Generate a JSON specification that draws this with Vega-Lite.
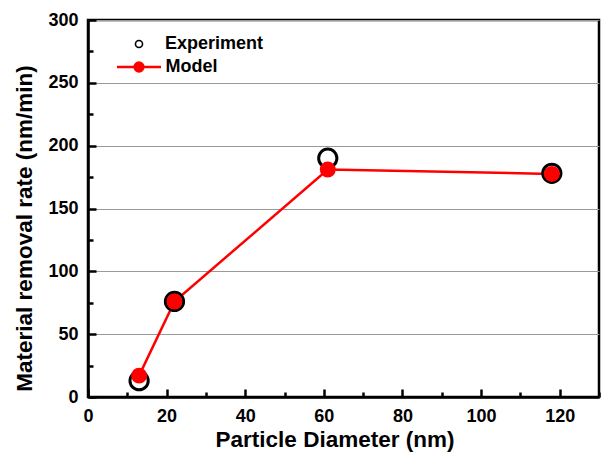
{
  "$schema": "https://vega.github.io/schema/vega-lite/v6.json",
  "width": 511,
  "height": 377,
  "autosize": {"type": "none"},
  "padding": {"left": 88, "top": 20, "right": 2, "bottom": 55},
  "background": "white",
  "config": {
    "view": {"stroke": "black", "strokeWidth": 2.5},
    "font": "Liberation Sans"
  },
  "data": {
    "values": [
      {"series": "Experiment", "d": 13, "rate": 13},
      {"series": "Experiment", "d": 22, "rate": 76},
      {"series": "Experiment", "d": 61, "rate": 190},
      {"series": "Experiment", "d": 118, "rate": 178},
      {"series": "Model", "d": 13, "rate": 17},
      {"series": "Model", "d": 22, "rate": 76},
      {"series": "Model", "d": 61, "rate": 181},
      {"series": "Model", "d": 118, "rate": 177.5}
    ]
  },
  "layer": [
    {
      "transform": [{"filter": "datum.series === 'Model'"}],
      "mark": {"type": "line", "color": "#ff0000", "strokeWidth": 2.5},
      "encoding": {
        "x": {
          "field": "d", "type": "quantitative",
          "scale": {"domain": [0, 130], "nice": false, "zero": false},
          "axis": {
            "orient": "bottom",
            "values": [0, 20, 40, 60, 80, 100, 120],
            "title": "Particle Diameter (nm)",
            "titleFont": "Liberation Sans", "titleFontSize": 22.5, "titleFontWeight": "bold", "titleColor": "black",
            "titlePadding": 3, "titleX": 246.5,
            "labelFont": "Liberation Sans", "labelFontSize": 18, "labelFontWeight": "bold", "labelColor": "black",
            "labelPadding": 18, "labelFlush": false, "labelOverlap": false,
            "tickSize": -8, "tickWidth": 2.5, "tickColor": "black",
            "domain": true, "domainColor": "black", "domainWidth": 2.5,
            "grid": false
          }
        },
        "y": {
          "field": "rate", "type": "quantitative",
          "scale": {"domain": [0, 300], "nice": false, "zero": false},
          "axis": {
            "orient": "left",
            "values": [0, 50, 100, 150, 200, 250, 300],
            "title": "Material removal rate (nm/min)",
            "titleFont": "Liberation Sans", "titleFontSize": 22.5, "titleFontWeight": "bold", "titleColor": "black",
            "titlePadding": 11, "titleY": 208,
            "labelFont": "Liberation Sans", "labelFontSize": 18, "labelFontWeight": "bold", "labelColor": "black",
            "labelPadding": 18, "labelFlush": false, "labelOverlap": false,
            "tickSize": -8, "tickWidth": 2.5, "tickColor": "black",
            "domain": true, "domainColor": "black", "domainWidth": 2.5,
            "grid": true, "gridColor": "#999999", "gridWidth": 1.2
          }
        }
      }
    },
    {
      "transform": [{"filter": "datum.series === 'Experiment'"}],
      "mark": {"type": "point", "shape": "circle", "size": 333, "filled": false, "fill": "white", "strokeWidth": 3, "opacity": 1},
      "encoding": {
        "x": {
          "field": "d", "type": "quantitative",
          "scale": {"domain": [0, 130], "nice": false, "zero": false},
          "axis": {
            "orient": "bottom",
            "values": [10, 30, 50, 70, 90, 110, 130],
            "title": null, "labels": false, "domain": false, "grid": false,
            "tickSize": -5, "tickWidth": 2.5, "tickColor": "black"
          }
        },
        "y": {
          "field": "rate", "type": "quantitative",
          "scale": {"domain": [0, 300], "nice": false, "zero": false},
          "axis": {
            "orient": "left",
            "values": [25, 75, 125, 175, 225, 275],
            "title": null, "labels": false, "domain": false, "grid": false,
            "tickSize": -5, "tickWidth": 2.5, "tickColor": "black"
          }
        },
        "stroke": {
          "field": "series", "type": "nominal",
          "scale": {"domain": ["Experiment"], "range": ["black"]},
          "legend": {
            "title": null,
            "orient": "none",
            "legendX": 42,
            "legendY": 15,
            "padding": 0,
            "symbolType": "circle",
            "symbolSize": 50,
            "symbolStrokeWidth": 1.6,
            "symbolFillColor": "white",
            "symbolOpacity": 1,
            "labelFont": "Liberation Sans",
            "labelFontSize": 18,
            "labelFontWeight": "bold",
            "labelColor": "black",
            "labelOffset": 17
          }
        }
      }
    },
    {
      "transform": [{"filter": "datum.series === 'Model'"}],
      "mark": {"type": "point", "shape": "circle", "size": 254, "filled": true, "opacity": 1},
      "encoding": {
        "x": {"field": "d", "type": "quantitative", "axis": null},
        "y": {"field": "rate", "type": "quantitative", "axis": null},
        "color": {
          "field": "series", "type": "nominal",
          "scale": {"domain": ["Model"], "range": ["#ff0000"]},
          "legend": {
            "title": null,
            "orient": "none",
            "legendX": 27.5,
            "legendY": 23.5,
            "padding": 0,
            "symbolType": "M-1,0H1M0.2,0A0.2,0.2 0 1,1 -0.2,0A0.2,0.2 0 1,1 0.2,0Z",
            "symbolSize": 1936,
            "symbolStrokeWidth": 2.5,
            "symbolStrokeColor": "#ff0000",
            "symbolFillColor": "#ff0000",
            "labelFont": "Liberation Sans",
            "labelFontSize": 18,
            "labelFontWeight": "bold",
            "labelColor": "black",
            "labelOffset": 3
          }
        }
      }
    }
  ],
  "resolve": {"axis": {"x": "independent", "y": "independent"}}
}
